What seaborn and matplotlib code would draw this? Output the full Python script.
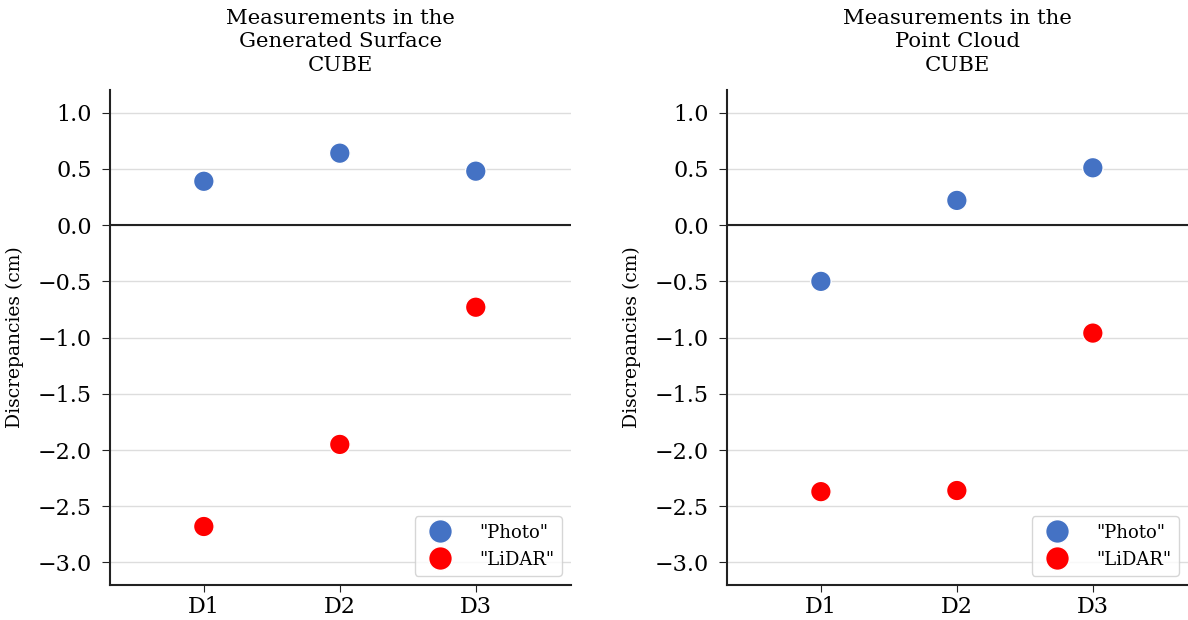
import pandas as pd
import matplotlib.pyplot as plt
import seaborn as sns

points = ["D1", "D2", "D3"]
surface_photo = [0.39, 0.64, 0.48]
surface_lidar = [-2.68, -1.95, -0.73]
cloud_photo = [-0.50, 0.22, 0.51]
cloud_lidar = [-2.37, -2.36, -0.96]
titles = ["Measurements in the\nGenerated Surface\nCUBE",
          "Measurements in the\nPoint Cloud\nCUBE"]
yticks = [1.0, 0.5, 0.0, -0.5, -1.0, -1.5, -2.0, -2.5, -3.0]

sns.set_style("ticks")
plt.rcParams['font.family'] = ['DejaVu Serif']
plt.rcParams['text.color'] = 'black'
plt.rcParams['axes.labelcolor'] = 'black'
plt.rcParams['xtick.color'] = 'black'
plt.rcParams['ytick.color'] = 'black'

fig = plt.figure(figsize=(11.88, 6.2), dpi=100)
ax1 = fig.add_axes([0.0926, 0.0565, 0.388, 0.798])
ax2 = fig.add_axes([0.612, 0.0565, 0.388, 0.798])

palette = {'"Photo"': '#4472C4', '"LiDAR"': '#FF0000'}

for ax, photo, lidar, title in [(ax1, surface_photo, surface_lidar, titles[0]),
                                 (ax2, cloud_photo, cloud_lidar, titles[1])]:
    df = pd.DataFrame({
        'point': points * 2,
        'value': photo + lidar,
        'source': ['"Photo"'] * 3 + ['"LiDAR"'] * 3,
    })
    ax.set_axisbelow(True)
    ax.yaxis.grid(True, color='#dddddd', linewidth=1)
    sns.scatterplot(data=df, x='point', y='value', hue='source', palette=palette,
                    s=220, edgecolor='white', linewidth=1, ax=ax, zorder=3)
    ax.axhline(0, color='#222222', linewidth=1.5, zorder=2)
    ax.set_xlim(-0.69, 2.7)
    ax.set_ylim(-3.2, 1.2)
    ax.set_yticks(yticks)
    ax.tick_params(axis='y', labelsize=16, color='#222222', length=6, pad=7)
    ax.tick_params(axis='x', labelsize=16, color='#222222', length=5, pad=3)
    ax.set_xlabel('')
    ax.set_ylabel('Discrepancies (cm)', fontsize=13.5, labelpad=10)
    ax.set_title(title, fontsize=15.3, linespacing=1.3, pad=14)
    sns.despine(ax=ax)
    for sp in ['left', 'bottom']:
        ax.spines[sp].set_linewidth(1.5)
        ax.spines[sp].set_color('#222222')
    leg = ax.legend(loc='lower right', fontsize=13, title=None, markerscale=1.15,
                    handletextpad=1.2)

fig.savefig('out.png', dpi=100)
